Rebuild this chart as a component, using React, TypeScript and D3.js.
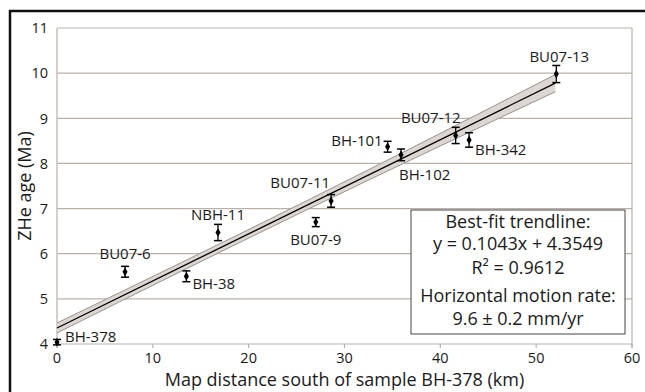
import React from 'react';
import * as d3 from 'd3';

// samples: distance south of BH-378 (km), ZHe age (Ma), 1-sigma error (Ma)
const samples = ['BH-378', 'BU07-6', 'BH-38', 'NBH-11', 'BU07-9', 'BU07-11', 'BH-101', 'BH-102', 'BU07-12', 'BH-342', 'BU07-13'];
const distance = [0, 7.1, 13.5, 16.8, 27.0, 28.6, 34.5, 35.9, 41.6, 43.0, 52.1];
const age = [4.04, 5.6, 5.5, 6.47, 6.7, 7.17, 8.37, 8.19, 8.62, 8.52, 9.98];
const ageErr = [0.06, 0.12, 0.12, 0.18, 0.1, 0.14, 0.12, 0.13, 0.18, 0.16, 0.19];

// trendline + confidence band
const slope = 0.1043;
const intercept = 4.3549;
const bandX = [0, 26, 52];
const bandHalf = [0.11, 0.1, 0.19];

const xTicks = [0, 10, 20, 30, 40, 50, 60];
const yTicks = [4, 5, 6, 7, 8, 9, 10, 11];

const boxLines = ['Best-fit trendline:', 'y = 0.1043x + 4.3549', 'R² = 0.9612', 'Horizontal motion rate:', '9.6 ± 0.2 mm/yr'];

// label placement relative to the point: dx, dy, anchor
const labelPos: Record<string, [number, number, string]> = {
  'BH-378': [8, 0, 'start'],
  'BU07-6': [0, -13, 'middle'],
  'BH-38': [6, 13, 'start'],
  'NBH-11': [0, -12, 'middle'],
  'BU07-9': [0, 23, 'middle'],
  'BU07-11': [-1, -13, 'end'],
  'BH-101': [-5, -1, 'end'],
  'BH-102': [-2, 25, 'start'],
  'BU07-12': [5, -12, 'end'],
  'BH-342': [6, 15, 'start'],
  'BU07-13': [3, -12, 'middle'],
};

const W = 645, H = 392;
const font = '"Open Sans", sans-serif';
const gridColor = '#bab1ab';
const textColor = '#1a1a1a';

export default function App() {
  const x = d3.scaleLinear().domain([0, 60]).range([57, 632]);
  const y = d3.scaleLinear().domain([4, 11]).range([344, 28]);

  const trend = (d: number) => slope * d + intercept;
  const upper = d3.line<number>().x((d) => x(d)).y((d, i) => y(trend(d) + bandHalf[i])).curve(d3.curveMonotoneX);
  const lower = d3.line<number>().x((d) => x(d)).y((d, i) => y(trend(d) - bandHalf[i])).curve(d3.curveMonotoneX);
  const area = d3.area<number>()
    .x((d) => x(d))
    .y0((d, i) => y(trend(d) - bandHalf[i]))
    .y1((d, i) => y(trend(d) + bandHalf[i]))
    .curve(d3.curveMonotoneX);
  const diamond = d3.symbol().type(d3.symbolDiamond).size(22)();

  const boxX = 411, boxY = 210, boxW = 214, boxH = 124;
  const boxBase = [228, 250, 274, 302, 325];

  return (
    <svg width={W} height={H} style={{ position: 'absolute', left: 0, top: 0, background: '#fff' }} fontFamily={font}>
      {/* outer frame */}
      <path d={`M10,${H + 5}V11H${W + 5}`} fill="none" stroke="#111" strokeWidth={2.5} />

      {/* grid */}
      {yTicks.filter((t) => t > 4).map((t) => (
        <line key={t} x1={x(0)} x2={x(60)} y1={y(t)} y2={y(t)} stroke={gridColor} strokeWidth={1.2} />
      ))}
      <line x1={x(0)} x2={x(0)} y1={y(11)} y2={y(4) + 4} stroke={gridColor} strokeWidth={1.2} />
      <line x1={x(60)} x2={x(60)} y1={y(11)} y2={y(4) + 4} stroke={gridColor} strokeWidth={1.2} />
      <line x1={x(0)} x2={x(60)} y1={y(4)} y2={y(4)} stroke={gridColor} strokeWidth={1.2} />
      {xTicks.map((t) => (
        <line key={t} x1={x(t)} x2={x(t)} y1={y(4)} y2={y(4) + 4} stroke={gridColor} strokeWidth={1.2} />
      ))}

      {/* tick labels */}
      {yTicks.map((t) => (
        <text key={t} x={x(0) - 9} y={y(t)} dy="0.36em" textAnchor="end" fontSize={14.5} fill={textColor}>{t}</text>
      ))}
      {xTicks.map((t) => (
        <text key={t} x={x(t)} y={y(4) + 19} textAnchor="middle" fontSize={14.5} fill={textColor}>{t}</text>
      ))}

      {/* confidence band and trend */}
      <path d={area(bandX) || ''} fill="#ddd7d3" />
      <path d={upper(bandX) || ''} fill="none" stroke="#9a918b" strokeWidth={1} />
      <path d={lower(bandX) || ''} fill="none" stroke="#9a918b" strokeWidth={1} />
      <line x1={x(0)} x2={x(52)} y1={y(trend(0))} y2={y(trend(52))} stroke="#000" strokeWidth={1.3} />

      {/* samples */}
      {samples.map((s, i) => {
        const cx = x(distance[i]);
        const cy = y(age[i]);
        const top = y(age[i] + ageErr[i]);
        const bot = y(age[i] - ageErr[i]);
        const [dx, dy, anchor] = labelPos[s];
        return (
          <g key={s}>
            <line x1={cx} x2={cx} y1={top} y2={bot} stroke="#000" strokeWidth={1.3} />
            <line x1={cx - 4} x2={cx + 4} y1={top} y2={top} stroke="#000" strokeWidth={1.5} />
            <line x1={cx - 4} x2={cx + 4} y1={bot} y2={bot} stroke="#000" strokeWidth={1.5} />
            <path d={diamond || ''} transform={`translate(${cx},${cy})`} fill="#000" />
            <text x={cx + dx} y={cy + dy} textAnchor={anchor as any} fontSize={15} fill={textColor}>{s}</text>
          </g>
        );
      })}

      {/* annotation box */}
      <rect x={boxX} y={boxY} width={boxW} height={boxH} fill="#fff" stroke="#444" strokeWidth={1} />
      {boxLines.map((l, i) => (
        <text key={i} x={boxX + boxW / 2} y={boxBase[i]} textAnchor="middle" fontSize={18} fill={textColor}>{l}</text>
      ))}

      {/* axis titles */}
      <text x={(x(0) + x(60)) / 2} y={386} textAnchor="middle" fontSize={18} fill={textColor}>
        Map distance south of sample BH-378 (km)
      </text>
      <text transform={`translate(31,${(y(4) + y(11)) / 2}) rotate(-90)`} textAnchor="middle" fontSize={18} fill={textColor}>
        ZHe age (Ma)
      </text>
    </svg>
  );
}
